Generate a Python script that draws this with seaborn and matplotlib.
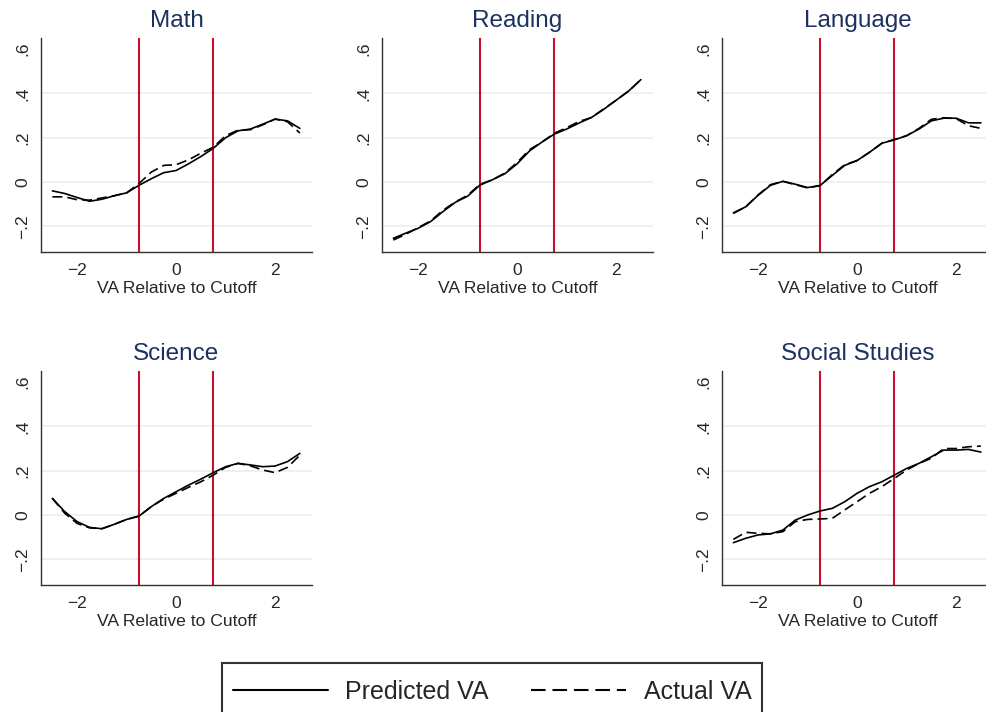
import numpy as np
import pandas as pd
import seaborn as sns
import matplotlib.pyplot as plt
from matplotlib.lines import Line2D

# Running position relative to the cutoff
va_grid = [-2.5, -2.25, -2.0, -1.75, -1.5, -1.25, -1.0, -0.75, -0.5, -0.25, 0.0,
           0.25, 0.5, 0.75, 1.0, 1.25, 1.5, 1.75, 2.0, 2.25, 2.5]

subjects = ["Math", "Reading", "Language", "Science", "Social Studies"]

math_pred = [-0.040, -0.052, -0.070, -0.087, -0.078, -0.062, -0.049, -0.015, 0.015, 0.042, 0.052,
             0.082, 0.115, 0.152, 0.200, 0.231, 0.239, 0.261, 0.284, 0.276, 0.242]
math_actual = [-0.067, -0.067, -0.080, -0.082, -0.072, -0.062, -0.049, -0.007, 0.045, 0.075, 0.078,
               0.100, 0.130, 0.157, 0.209, 0.234, 0.236, 0.258, 0.284, 0.272, 0.221]

reading_pred = [-0.254, -0.231, -0.209, -0.179, -0.134, -0.092, -0.064, -0.014, 0.010, 0.037, 0.082,
                0.140, 0.180, 0.216, 0.239, 0.266, 0.291, 0.328, 0.369, 0.410, 0.462]
reading_actual = [-0.262, -0.236, -0.206, -0.176, -0.128, -0.090, -0.060, -0.010, 0.010, 0.040, 0.088,
                  0.146, 0.180, 0.220, 0.245, 0.273, 0.291, 0.330, 0.369, 0.410, 0.462]

language_pred = [-0.139, -0.112, -0.060, -0.015, 0.003, -0.010, -0.025, -0.016, 0.030, 0.075, 0.097,
                 0.134, 0.175, 0.190, 0.209, 0.239, 0.276, 0.288, 0.288, 0.267, 0.267]
language_actual = [-0.142, -0.112, -0.058, -0.012, 0.003, -0.012, -0.027, -0.016, 0.034, 0.078, 0.097,
                   0.134, 0.175, 0.192, 0.209, 0.242, 0.283, 0.290, 0.286, 0.254, 0.242]

science_pred = [0.075, 0.015, -0.030, -0.056, -0.062, -0.042, -0.020, -0.005, 0.038, 0.075, 0.105,
                0.135, 0.162, 0.191, 0.218, 0.233, 0.226, 0.218, 0.221, 0.241, 0.278]
science_actual = [0.075, 0.008, -0.038, -0.058, -0.062, -0.042, -0.020, -0.005, 0.038, 0.072, 0.098,
                  0.125, 0.150, 0.180, 0.215, 0.233, 0.222, 0.203, 0.191, 0.215, 0.270]

social_pred = [-0.125, -0.105, -0.090, -0.085, -0.068, -0.023, 0.000, 0.018, 0.030, 0.060, 0.098,
               0.128, 0.150, 0.180, 0.210, 0.233, 0.263, 0.293, 0.293, 0.296, 0.284]
social_actual = [-0.110, -0.078, -0.083, -0.085, -0.075, -0.030, -0.020, -0.018, -0.015, 0.023, 0.060,
                 0.098, 0.128, 0.165, 0.203, 0.233, 0.256, 0.300, 0.300, 0.308, 0.311]

cutoff_band = [-0.75, 0.75]
y_ticks = [-0.2, 0.0, 0.2, 0.4, 0.6]
y_tick_labels = ["\u2212.2", "0", ".2", ".4", ".6"]
x_ticks = [-2, 0, 2]
x_tick_labels = ["\u22122", "0", "2"]

pred_series = [math_pred, reading_pred, language_pred, science_pred, social_pred]
actual_series = [math_actual, reading_actual, language_actual, science_actual, social_actual]

rows = []
for subj, pv, av in zip(subjects, pred_series, actual_series):
    for x, p, a in zip(va_grid, pv, av):
        rows.append((subj, x, p, "Predicted VA"))
        rows.append((subj, x, a, "Actual VA"))
df = pd.DataFrame(rows, columns=["subject", "va", "value", "series"])

sns.set_style("white")
plt.rcParams["font.family"] = ["Liberation Sans", "DejaVu Sans"]

W, H = 987, 712
fig = plt.figure(figsize=(W / 100, H / 100), dpi=100)

ax_w, ax_h = 271, 214
col_left = [41, 382, 722]
row_top = [38, 371]
slots = {"Math": (0, 0), "Reading": (0, 1), "Language": (0, 2),
         "Science": (1, 0), "Social Studies": (1, 2)}

title_color = "#1c3160"
red = "#c8102e"
styles = {"Predicted VA": "", "Actual VA": (6, 3)}

for subj in subjects:
    r, c = slots[subj]
    left = col_left[c] / W
    bottom = 1 - (row_top[r] + ax_h) / H
    ax = fig.add_axes([left, bottom, ax_w / W, ax_h / H])
    sub = df[df.subject == subj]
    for yv in [-0.2, 0.0, 0.2, 0.4]:
        ax.axhline(yv, color="#e8f0f3", lw=1.2, zorder=0)
    for xv in cutoff_band:
        ax.axvline(xv, color=red, lw=1.5, zorder=1)
    sns.lineplot(data=sub, x="va", y="value", hue="series", style="series",
                 palette={"Predicted VA": "black", "Actual VA": "black"},
                 dashes=styles, lw=1.2, legend=False, ax=ax, zorder=3, sort=False)
    ax.set_xlim(-2.73, 2.745)
    ax.set_ylim(-0.316, 0.65)
    ax.set_xticks(x_ticks)
    ax.set_xticklabels(x_tick_labels, fontsize=12.5)
    ax.set_yticks(y_ticks)
    ax.set_yticklabels(y_tick_labels, fontsize=12.5, rotation=90, va="center")
    ax.tick_params(axis="both", direction="out", length=5, width=1, color="#333333", pad=3)
    ax.set_xlabel("VA Relative to Cutoff", fontsize=12.6, labelpad=2)
    ax.set_ylabel("")
    ax.set_title(subj, fontsize=17.5, color=title_color, pad=8)
    for s in ["top", "right"]:
        ax.spines[s].set_visible(False)
    for s in ["left", "bottom"]:
        ax.spines[s].set_color("#333333")
        ax.spines[s].set_linewidth(1.0)

# Legend box along the bottom edge
lax = fig.add_axes([222 / W, 1 - 717 / H, 540 / W, 54 / H])
lax.set_xticks([])
lax.set_yticks([])
for s in lax.spines.values():
    s.set_color("#333333")
    s.set_linewidth(1.5)
handles = [Line2D([], [], color="black", lw=1.5),
           Line2D([], [], color="black", lw=1.5, dashes=(7, 3.3))]
lax.legend(handles, ["Predicted VA", "Actual VA"], loc="center", ncol=2,
           frameon=False, fontsize=18, handlelength=3.8, handletextpad=0.7,
           columnspacing=1.7, bbox_to_anchor=(0.5, 0.47))

fig.savefig("out.png", dpi=100, facecolor="white")
